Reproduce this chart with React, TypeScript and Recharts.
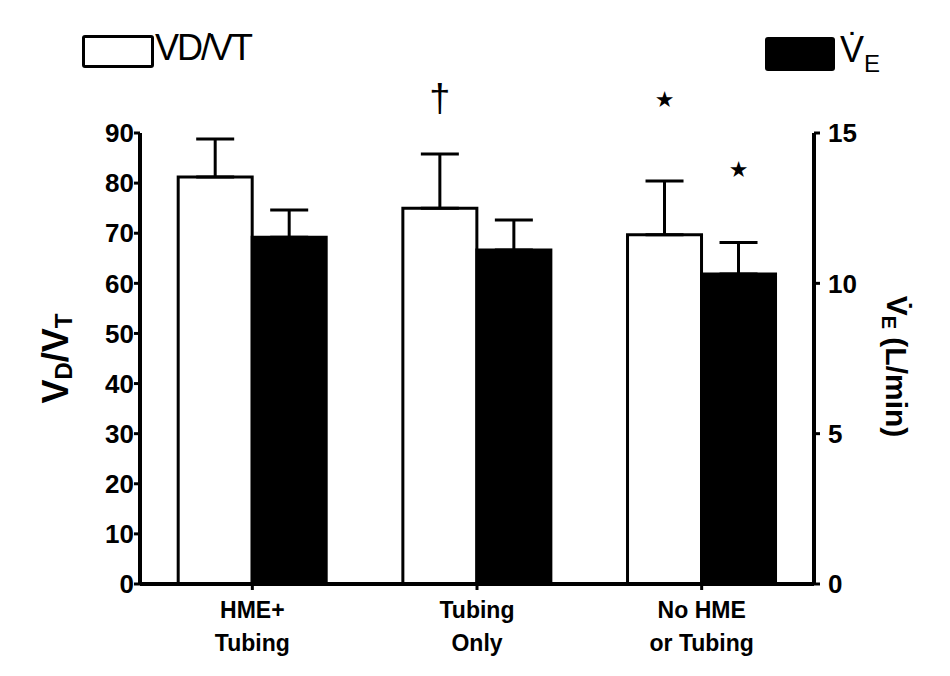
import { Bar, BarChart, ErrorBar, LabelList, XAxis, YAxis } from "recharts";

const categories = ["HME+\nTubing", "Tubing\nOnly", "No HME\nor Tubing"];
const vdvt = [81.2, 75.0, 69.7];
const vdvtSd = [7.6, 10.8, 10.7];
const ve = [11.53, 11.11, 10.31];
const veSd = [0.91, 1.0, 1.05];
const vdvtMarks = ["", "†", "★"];
const vdvtMarkLevel = [0, 96.9, 96.6];
const veMarks = ["", "", "★"];
const veMarkLevel = [0, 0, 13.8];
const leftTicks = [0, 10, 20, 30, 40, 50, 60, 70, 80, 90];
const rightTicks = [0, 5, 10, 15];

const data = categories.map((name, i) => ({
  name,
  vdvt: vdvt[i],
  vdvtErr: [0, vdvtSd[i]],
  ve: ve[i],
  veErr: [0, veSd[i]],
}));

const font = "'Liberation Sans', Arial, sans-serif";

function makeMark(marks: string[], levels: number[], values: number[]) {
  return (props: any) => {
    const { x, y, width, height, index } = props;
    const mark = marks[index];
    if (!mark) return null;
    const perUnit = height / values[index];
    const cy = y + height - levels[index] * perUnit;
    const isStar = mark === "★";
    return (
      <text
        x={x + width / 2}
        y={cy}
        textAnchor="middle"
        dominantBaseline="central"
        fontFamily={isStar ? "'DejaVu Sans', sans-serif" : font}
        fontWeight={isStar ? "bold" : "normal"}
        fontSize={isStar ? 22 : 38}
        fill="#000"
      >
        {mark}
      </text>
    );
  };
}

function CategoryTick(props: any) {
  const { x, y, payload } = props;
  const lines = String(payload.value).split("\n");
  return (
    <text x={x} y={y} textAnchor="middle" fontFamily={font} fontWeight="bold" fontSize={23} fill="#000">
      {lines.map((l, i) => (
        <tspan key={i} x={x} dy={i === 0 ? 26 : 33}>
          {l}
        </tspan>
      ))}
    </text>
  );
}

function LeftTitle(props: any) {
  const { viewBox } = props;
  const cx = viewBox.x + 55;
  const cy = viewBox.y + viewBox.height / 2;
  return (
    <text
      transform={`translate(${cx},${cy}) rotate(-90)`}
      textAnchor="middle"
      dominantBaseline="central"
      fontFamily={font}
      fontWeight="bold"
      fontSize={36}
      fill="#000"
    >
      V<tspan fontSize={24} dy={8}>D</tspan>
      <tspan dy={-8}>/V</tspan>
      <tspan fontSize={24} dy={8}>T</tspan>
    </text>
  );
}

function RightTitle(props: any) {
  const { viewBox } = props;
  const cx = viewBox.x + 83;
  const cy = viewBox.y + viewBox.height / 2 + 8;
  return (
    <text
      transform={`translate(${cx},${cy}) rotate(90)`}
      textAnchor="middle"
      dominantBaseline="central"
      fontFamily={font}
      fontWeight="bold"
      fontSize={30}
      fill="#000"
    >
      V̇<tspan fontSize={20} dy={8}>E</tspan>
      <tspan dy={-8}> (L/min)</tspan>
    </text>
  );
}

const tickStyle = { fill: "#000", fontSize: 26, fontWeight: "bold" as const, fontFamily: font };

export default function App() {
  return (
    <div style={{ position: "absolute", left: 0, top: 0, width: 950, height: 676, background: "#fff" }}>
      <BarChart
        width={950}
        height={676}
        data={data}
        margin={{ top: 133, right: 0, bottom: 0, left: 0 }}
        barGap={0}
        barCategoryGap="17%"
      >
        <XAxis
          dataKey="name"
          height={92}
          axisLine={{ stroke: "#000", strokeWidth: 4 }}
          tickLine={{ stroke: "#000", strokeWidth: 3 }}
          tickSize={6}
          tick={<CategoryTick />}
          interval={0}
        />
        <YAxis
          yAxisId="left"
          width={140}
          domain={[0, 90]}
          ticks={leftTicks}
          interval={0}
          axisLine={{ stroke: "#000", strokeWidth: 4 }}
          tickLine={{ stroke: "#000", strokeWidth: 3 }}
          tickSize={6}
          tickMargin={0}
          tick={tickStyle}
          label={<LeftTitle />}
        />
        <YAxis
          yAxisId="right"
          orientation="right"
          width={136}
          domain={[0, 15]}
          ticks={rightTicks}
          interval={0}
          axisLine={{ stroke: "#000", strokeWidth: 4 }}
          tickLine={{ stroke: "#000", strokeWidth: 3 }}
          tickSize={6}
          tickMargin={8}
          tick={tickStyle}
          label={<RightTitle />}
        />
        <Bar yAxisId="left" dataKey="vdvt" fill="#fff" stroke="#000" strokeWidth={3} isAnimationActive={false}>
          <ErrorBar dataKey="vdvtErr" width={19} stroke="#000" strokeWidth={3} direction="y" />
          <LabelList dataKey="vdvt" content={makeMark(vdvtMarks, vdvtMarkLevel, vdvt)} />
        </Bar>
        <Bar yAxisId="right" dataKey="ve" fill="#000" stroke="#000" strokeWidth={3} isAnimationActive={false}>
          <ErrorBar dataKey="veErr" width={19} stroke="#000" strokeWidth={3} direction="y" />
          <LabelList dataKey="ve" content={makeMark(veMarks, veMarkLevel, ve)} />
        </Bar>
      </BarChart>
      <div style={{ position: "absolute", left: 82, top: 35, width: 66, height: 27, border: "3px solid #000", borderRadius: 3, background: "#fff" }} />
      <div style={{ position: "absolute", left: 155, top: 28, fontFamily: "'Liberation Sans Narrow', 'Liberation Sans', sans-serif", fontSize: 36, lineHeight: "40px", letterSpacing: -2, color: "#000" }}>
        VD/VT
      </div>
      <div style={{ position: "absolute", left: 765, top: 37, width: 70, height: 34, borderRadius: 3, background: "#000" }} />
      <div style={{ position: "absolute", left: 840, top: 30, fontFamily: "'Liberation Sans Narrow', 'Liberation Sans', sans-serif", fontSize: 36, lineHeight: "40px", color: "#000" }}>
        V̇<span style={{ fontSize: 24, verticalAlign: "-10px" }}>E</span>
      </div>
    </div>
  );
}
